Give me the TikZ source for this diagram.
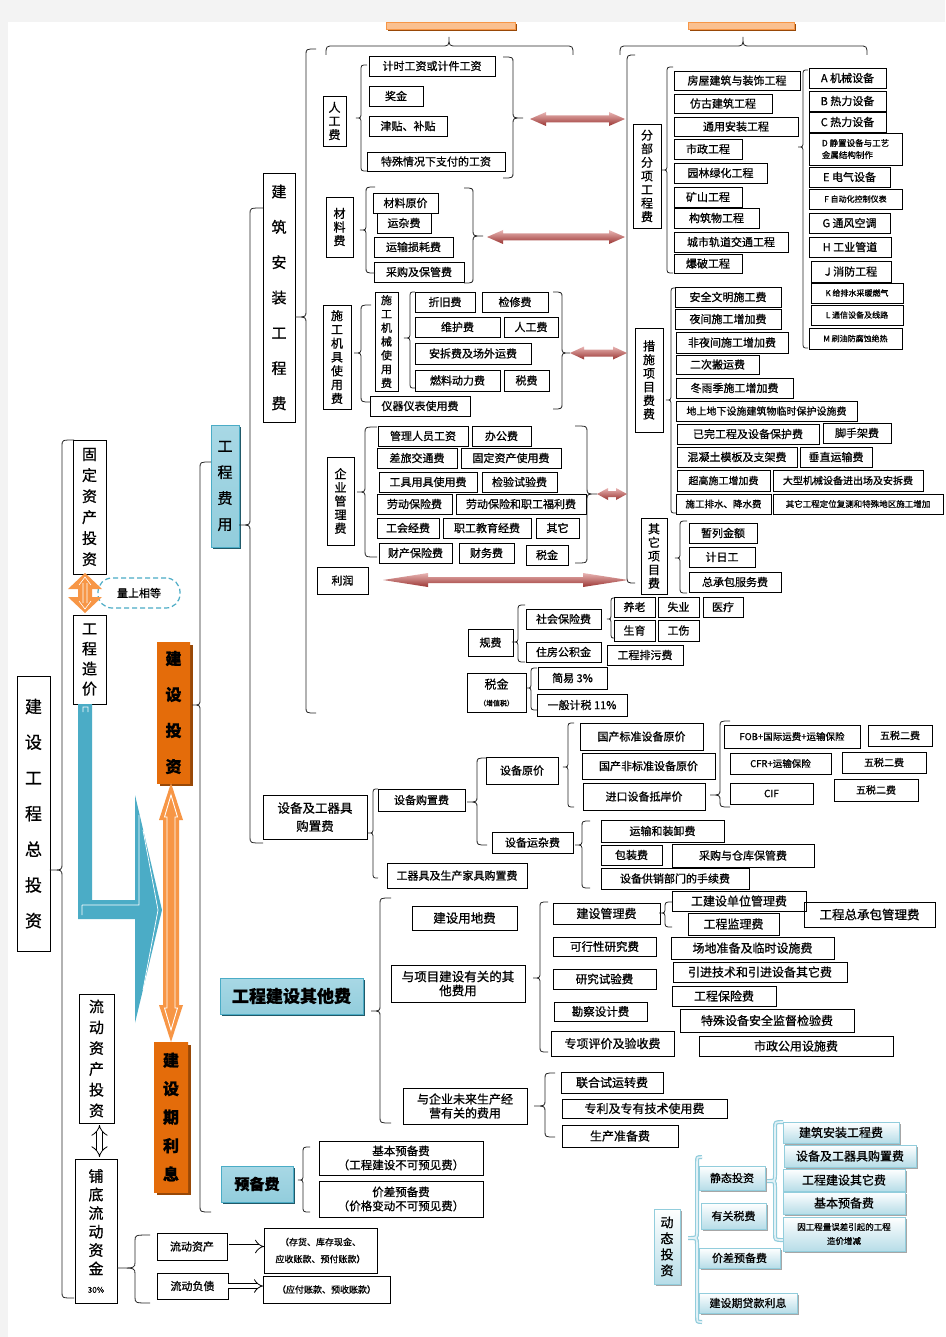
\documentclass[tikz,border=0pt]{standalone}
\usepackage{fontspec}
\setmainfont{Noto Sans CJK SC}[FakeBold=0.8]
\usetikzlibrary{shadows,arrows.meta}
\definecolor{ored}{HTML}{C0504D}
\definecolor{rtop}{HTML}{E8B4B3}
\definecolor{rbot}{HTML}{9A3532}
\definecolor{orng}{HTML}{E46C0A}
\definecolor{orngm}{HTML}{F2A25E}
\definecolor{orngl}{HTML}{F79646}
\definecolor{orngp}{HTML}{FAC090}
\definecolor{orngd}{HTML}{984807}
\definecolor{bl}{HTML}{4BACC6}
\definecolor{bll}{HTML}{A8D8E5}
\definecolor{blm}{HTML}{58B3CB}
\definecolor{bld}{HTML}{215968}
\definecolor{blp}{HTML}{B7DDE8}
\definecolor{blb}{HTML}{92CDDC}
\definecolor{pg}{HTML}{F3F3F3}
\newcommand\fz[2]{\fontsize{#1}{#2}\selectfont}
\tikzset{
  box/.style={draw=black,line width=0.8pt,inner sep=0pt,outer sep=0pt,anchor=north west,align=center,font=\fz{11}{13},text=black},
  vbox/.style={font=\fz{12}{13.6}},
  obox/.style={draw=none,left color=orng,middle color=orngm,right color=orng,font=\fz{16}{36}\bfseries,
     drop shadow={shadow xshift=3pt,shadow yshift=-3pt,fill=orngd,opacity=1}},
  bbox/.style={draw=bl,top color=bll,middle color=blm,bottom color=blb,
     drop shadow={shadow xshift=2pt,shadow yshift=-2pt,fill=bld,opacity=1}},
  dbox/.style={draw=blb,top color=white,bottom color=blp,
     drop shadow={shadow xshift=2pt,shadow yshift=-2pt,fill=black!35,opacity=1}},
  topor/.style={draw=orngl,fill=orngp,drop shadow={shadow xshift=2pt,shadow yshift=-2pt,fill=orngd,opacity=1}},
  brc/.style={draw=black!85,line width=0.8pt},
  lbrc/.style={draw=blb,line width=4pt},
  lbrcin/.style={draw=white!60!blp,line width=1.6pt},
  warr/.style={double=white,double distance=4pt,line width=0.8pt},
}
\newcommand\bx[7][]{\node[box,minimum width={(#5)-(#3)},minimum height={(#6)-(#4)},#1] (#2) at (#3,#4) {#7};}
% brace: tip x, tip y, line x, end x, top y, bottom y
\newcommand\brcpath[6]{(#4,#5) .. controls (#3,#5) .. (#3,#5+6) -- (#3,#2-6) .. controls (#3,#2) .. (#1,#2) .. controls (#3,#2) .. (#3,#2+6) -- (#3,#6-6) .. controls (#3,#6) .. (#4,#6)}
\newcommand\brc[6]{\draw[brc] \brcpath{#1}{#2}{#3}{#4}{#5}{#6};}
% red double arrow: x1 x2 y headhalf shafthalf headlength
\newcommand\rdar[6]{\shade[top color=rtop,middle color=ored,bottom color=rbot] (#1,#3) -- (#1+#6,#3-#4) -- (#1+#6,#3-#5) -- (#2-#6,#3-#5) -- (#2-#6,#3-#4) -- (#2,#3) -- (#2-#6,#3+#4) -- (#2-#6,#3+#5) -- (#1+#6,#3+#5) -- (#1+#6,#3+#4) -- cycle;}
\begin{document}
\begin{tikzpicture}[x=1pt,y=-1pt]
\useasboundingbox (0,0) rectangle (945,1337);
\fill[pg] (0,0) rectangle (945,1337);
\fill[white] (8,22) rectangle (945,1337);

% ---------- top orange strips and top braces
\bx[topor]{tora}{386}{22}{515}{29}{}
\bx[topor]{torb}{688}{22}{794}{29}{}
\draw[brc] (326,55) .. controls (326,46) .. (334,46) -- (441,46) .. controls (449,46) .. (449,37) .. controls (449,46) .. (457,46) -- (565,46) .. controls (573,46) .. (573,55);
\draw[brc] (620,55) .. controls (620,46) .. (628,46) -- (735,46) .. controls (743,46) .. (743,37) .. controls (743,46) .. (751,46) -- (859,46) .. controls (867,46) .. (867,55);
\draw[brc] (635,55) .. controls (627,55) .. (627,63) -- (627,575) .. controls (627,583) .. (635,583);

% ---------- left column
\bx[font=\fz{17}{35.7}]{zjt}{17}{676}{50}{951}{建\\设\\工\\程\\总\\投\\资}
\bx[font=\fz{15}{21}]{gdzc}{73}{440}{106}{574}{固\\定\\资\\产\\投\\资}
\bx[font=\fz{15}{20}]{gczj}{73}{615}{106}{704}{工\\程\\造\\价}
\bx[draw=bl,dash pattern=on 5pt off 3pt,line width=1.2pt,rounded corners=14pt,fill=white]{eq}{98}{578}{180}{608}{量上相等}
\bx[obox]{jstz}{157}{642}{190}{783}{建\\设\\投\\资}
\bx[obox,font=\fz{16}{28.5}\bfseries]{jsqlx}{154}{1042}{188}{1192}{建\\设\\期\\利\\息}
\bx[bbox,font=\fz{15}{26}]{gcfy}{211}{425}{239}{547}{工\\程\\费\\用}
\bx[font=\fz{15}{35.3}]{jzaz}{263}{173}{295}{422}{建\\筑\\安\\装\\工\\程\\费}
\bx[font=\fz{15}{20.8}]{ldzc}{79}{994}{114}{1123}{流\\动\\资\\产\\投\\资}
\bx[font=\fz{15}{18.5}]{pdld}{75}{1159}{117}{1303}{铺\\底\\流\\动\\资\\金\\{\fz{8}{10}30\%}}
\bx{ldzc2}{157}{1233}{227}{1260}{流动资产}
\bx{ldfz}{157}{1273}{228}{1299}{流动负债}
\bx[font=\fz{9}{17}]{ch}{264}{1228}{377}{1273}{（存货、库存现金、\\应收账款、预付账款）}
\bx[font=\fz{9}{11}]{yf}{263}{1276}{390}{1303}{（应付账款、预收账款）}

% orange double arrow (fixed assets <-> cost)
\fill[orngl] (85,573) -- (102,589) -- (92,589) -- (92,597) -- (102,597) -- (85,613) -- (68,597) -- (78,597) -- (78,589) -- (68,589) -- cycle;
\draw[white,line width=0.6pt] (83,583) -- (83,603) (87,583) -- (87,603) (79,585) -- (85,577) -- (91,585) (79,601) -- (85,609) -- (91,601);
% blue L arrow (cost -> construction investment)
\fill[bl] (78,704) -- (92,704) -- (92,900) -- (135,900) -- (135,795) -- (162,910) -- (135,1023) -- (135,919) -- (78,919) -- cycle;
\draw[white,line width=0.7pt] (83,712) -- (83,707) -- (88,707) -- (88,712) (82,905) -- (139,905) -- (139,815) (143,830) -- (158,910) -- (143,990) (82,905) -- (82,915);
% orange vertical double arrow
\fill[orngl] (171,783) -- (183,820) -- (179,820) -- (179,1005) -- (183,1005) -- (171,1042) -- (159,1005) -- (163,1005) -- (163,820) -- (159,820) -- cycle;
\draw[white,line width=0.9pt] (171,795) -- (177.5,817) -- (175,817) -- (175,1008) -- (177.5,1008) -- (171,1030) -- (164.5,1008) -- (167,1008) -- (167,817) -- (164.5,817) -- cycle;
% white double arrow and right arrows
\draw[warr,double distance=5pt,{Implies}-{Implies}] (99.5,1125) -- (99.5,1157);
\draw[warr,-{Implies}] (ldzc2.east) ++(2,0) -- (ch.west |- ldzc2.east);
\draw[warr,-{Implies}] (ldfz.east) -- (yf.west |- ldfz.east);

% left braces
\brc{50}{870}{62}{74}{440}{1298}
\brc{192}{705}{200}{211}{462}{1212}
\brc{239}{525}{250}{263}{208}{843}
\brc{295}{317}{306}{316}{49}{713}
\brc{117}{1268}{135}{150}{1235}{1303}

% ---------- labour
\bx[vbox]{rgf}{323}{96}{346}{146}{人\\工\\费}
\bx{jsgz}{369}{56}{495}{76}{计时工资或计件工资}
\bx{jj}{369}{86}{423}{106}{奖金}
\bx{jt}{369}{116}{447}{136}{津贴、补贴}
\bx{ts}{367}{152}{505}{171}{特殊情况下支付的工资}
\brc{356}{118}{361}{367}{65}{171}
\brc{523}{118}{513}{503}{57}{178}
% materials
\bx[vbox]{clf}{326}{197}{353}{257}{材\\料\\费}
\bx{clyj}{373}{193}{438}{213}{材料原价}
\bx{yzf}{377}{213}{431}{233}{运杂费}
\bx{yssh}{374}{237}{453}{257}{运输损耗费}
\bx{cgbg}{374}{262}{464}{282}{采购及保管费}
\brc{360}{230}{366}{375}{187}{273}
\brc{483}{236}{473}{464}{188}{283}
% machinery
\bx[font=\fz{12}{13.8}]{sgjj}{323}{305}{351}{409}{施\\工\\机\\具\\使\\用\\费}
\bx[font=\fz{11}{13.8}]{sgjx}{375}{292}{398}{391}{施\\工\\机\\械\\使\\用\\费}
\bx{zjf}{415}{292}{475}{312}{折旧费}
\bx{jxf}{482}{292}{548}{312}{检修费}
\bx{whf}{415}{317}{500}{337}{维护费}
\bx{rgfb}{504}{317}{558}{337}{人工费}
\bx{acf}{415}{343}{531}{364}{安拆费及场外运费}
\bx{rldl}{415}{370}{500}{391}{燃料动力费}
\bx{sff}{504}{370}{549}{391}{税费}
\bx{yqyb}{370}{396}{470}{416}{仪器仪表使用费}
\brc{354}{353}{361}{371}{305}{402}
\brc{404}{338}{410}{415}{292}{388}
\brc{570}{353}{562}{553}{292}{409}
% management
\bx[vbox]{qygl}{327}{457}{354}{545}{企\\业\\管\\理\\费}
\bx{glry}{378}{426}{468}{446}{管理人员工资}
\bx{bgf}{472}{426}{531}{446}{办公费}
\bx{clt}{377}{448}{457}{468}{差旅交通费}
\bx{gdsy}{461}{448}{561}{468}{固定资产使用费}
\bx{gjyj}{379}{472}{477}{492}{工具用具使用费}
\bx{jysy}{482}{472}{557}{492}{检验试验费}
\bx{ldbx}{377}{494}{452}{514}{劳动保险费}
\bx{ldfl}{456}{494}{586}{514}{劳动保险和职工福利费}
\bx{ghjf}{377}{518}{439}{538}{工会经费}
\bx{zgjy}{443}{518}{531}{538}{职工教育经费}
\bx{qtt}{536}{518}{579}{538}{其它}
\bx{ccbx}{379}{543}{452}{563}{财产保险费}
\bx{cwf}{459}{543}{514}{563}{财务费}
\bx{sjj}{526}{545}{568}{565}{税金}
\brc{357}{492}{365}{377}{427}{557}
\brc{597}{494}{587}{575}{426}{563}
\bx{lr}{317}{567}{368}{594}{利润}
% red arrows
\rdar{530}{625}{119}{7}{3.5}{16}
\rdar{487}{625}{237}{7}{3.5}{16}
\rdar{570}{627}{353}{6.5}{3.5}{14}
\rdar{597}{627}{494}{6}{3}{11}
\rdar{383}{628}{580}{7}{3}{45}
% fees and tax
\bx{gf}{468}{629}{513}{656}{规费}
\bx{shbx}{526}{609}{601}{629}{社会保险费}
\bx{zfgj}{526}{642}{601}{662}{住房公积金}
\bx{yanglao}{614}{597}{655}{617}{养老}
\bx{shiye}{658}{597}{699}{617}{失业}
\bx{yiliao}{703}{597}{743}{617}{医疗}
\bx{shengyu}{614}{620}{655}{641}{生育}
\bx{gongshang}{658}{620}{699}{641}{工伤}
\bx{gcpw}{607}{645}{683}{665}{工程排污费}
\bx[font=\fz{12}{17}]{sjz}{467}{673}{526}{712}{税金\\{\fz{7}{9}（增值税）}}
\bx{jy}{538}{667}{607}{689}{简易 3\%}
\bx{ybjs}{537}{694}{627}{716}{一般计税 11\%}
\brc{512}{642}{518}{525}{605}{662}
\brc{607}{619}{611}{615}{598}{638}
\brc{527}{688}{531}{537}{668}{710}

% ---------- works
\bx[vbox]{fbfx}{633}{124}{661}{228}{分\\部\\分\\项\\工\\程\\费}
\bx{fw}{674}{71}{800}{90}{房屋建筑与装饰工程}
\bx{fg}{674}{94}{772}{113}{仿古建筑工程}
\bx{ty}{674}{117}{798}{136}{通用安装工程}
\bx{sz}{674}{139}{742}{159}{市政工程}
\bx{yllh}{674}{163}{767}{183}{园林绿化工程}
\bx{ks}{674}{187}{742}{207}{矿山工程}
\bx{gzw}{674}{208}{759}{228}{构筑物工程}
\bx{csgd}{674}{232}{788}{252}{城市轨道交通工程}
\bx{bp}{674}{254}{742}{273}{爆破工程}
\brc{662}{170}{667}{673}{67}{273}
\brc{798}{147}{803}{808}{70}{348}
\bx{ea}{809}{68}{886}{88}{A 机械设备}
\bx{eb}{809}{91}{886}{111}{B 热力设备}
\bx{ec}{809}{112}{886}{132}{C 热力设备}
\bx[font=\fz{8.5}{12},align=left]{ed}{809}{133}{902}{165}{D 静置设备与工艺\\金属结构制作}
\bx{ee}{809}{167}{890}{187}{E 电气设备}
\bx[font=\fz{8}{10}]{ef}{809}{189}{902}{209}{F 自动化控制仪表}
\bx{eg}{809}{213}{890}{233}{G 通风空调}
\bx{eh}{809}{237}{891}{257}{H 工业管道}
\bx{ej}{811}{261}{891}{282}{J 消防工程}
\bx[font=\fz{8}{10}]{ek}{811}{283}{903}{303}{K 给排水采暖燃气}
\bx[font=\fz{8}{10}]{el}{811}{305}{903}{325}{L 通信设备及线路}
\bx[font=\fz{8}{10}]{em}{809}{328}{902}{349}{M 刷油防腐蚀绝热}
% measures
\bx[vbox]{csxm}{635}{328}{663}{432}{措\\施\\项\\目\\费\\费}
\bx{aqwm}{675}{287}{781}{307}{安全文明施工费}
\bx{yjsg}{675}{309}{781}{329}{夜间施工增加费}
\bx{fyj}{676}{332}{788}{353}{非夜间施工增加费}
\bx{ecby}{676}{355}{759}{374}{二次搬运费}
\bx{dyj}{676}{378}{793}{398}{冬雨季施工增加费}
\bx[font=\fz{10}{12}]{dsdx}{676}{401}{857}{421}{地上地下设施建筑物临时保护设施费}
\bx{ywgc}{677}{424}{819}{444}{已完工程及设备保护费}
\bx{jsj}{823}{423}{891}{443}{脚手架费}
\bx{hnt}{677}{447}{797}{467}{混凝土模板及支架费}
\bx{czys}{800}{447}{872}{467}{垂直运输费}
\bx[font=\fz{10}{12}]{cgsg}{677}{470}{770}{491}{超高施工增加费}
\bx[font=\fz{10}{12}]{dxjx}{773}{470}{923}{491}{大型机械设备进出场及安拆费}
\bx[font=\fz{9.5}{12}]{sgps}{676}{494}{771}{514}{施工排水、降水费}
\bx[font=\fz{8.5}{10}]{qtgc}{773}{494}{943}{514}{其它工程定位复测和特殊地区施工增加}
\brc{666}{400}{671}{676}{288}{513}
% other items
\bx[vbox]{qtxm}{641}{518}{667}{594}{其\\它\\项\\目\\费}
\bx{zljl}{689}{523}{757}{543}{暂列金额}
\bx{jrg}{689}{547}{755}{567}{计日工}
\bx{zcbf}{689}{572}{781}{592}{总承包服务费}
\brc{675}{558}{680}{687}{521}{593}

% ---------- equipment
\bx[font=\fz{12.5}{18}]{sbgj}{263}{795}{367}{839}{设备及工器具\\购置费}
\bx{sbgz}{378}{789}{465}{811}{设备购置费}
\bx{sbyj}{486}{757}{558}{784}{设备原价}
\bx{sbyz}{492}{832}{573}{853}{设备运杂费}
\bx{gqj}{387}{863}{527}{888}{工器具及生产家具购置费}
\bx{gcbz}{580}{723}{703}{750}{国产标准设备原价}
\bx{gcfb}{582}{753}{715}{779}{国产非标准设备原价}
\bx{jksb}{583}{783}{705}{810}{进口设备抵岸价}
\bx[font=\fz{9.5}{12}]{fob}{724}{725}{860}{748}{FOB+国际运费+运输保险}
\bx[font=\fz{10}{12}]{wsa}{868}{725}{932}{746}{五税二费}
\bx[font=\fz{9.5}{12}]{cfr}{730}{753}{831}{774}{CFR+运输保险}
\bx[font=\fz{10}{12}]{wsb}{842}{752}{926}{773}{五税二费}
\bx[font=\fz{10}{12}]{cif}{730}{783}{813}{804}{CIF}
\bx[font=\fz{10}{12}]{wsc}{834}{779}{918}{801}{五税二费}
\bx{yszx}{601}{820}{724}{842}{运输和装卸费}
\bx{bzf}{601}{845}{662}{865}{包装费}
\bx{cgck}{672}{844}{814}{867}{采购与仓库保管费}
\bx{sbgx}{601}{868}{749}{889}{设备供销部门的手续费}
\brc{368}{833}{373}{378}{789}{878}
\brc{467}{802}{477}{487}{758}{845}
\brc{563}{767}{568}{574}{723}{807}
\brc{710}{795}{720}{730}{721}{807}
\brc{575}{845}{582}{590}{821}{888}

% ---------- other construction costs
\bx[bbox,font=\fz{17}{20}\bfseries]{gcqt}{220}{978}{363}{1014}{工程建设其他费}
\bx[font=\fz{12.5}{14}]{jsyd}{412}{906}{517}{930}{建设用地费}
\bx[font=\fz{12.5}{14}]{yxm}{391}{965}{525}{1002}{与项目建设有关的其\\他费用}
\bx[font=\fz{12}{14}]{jsgl}{553}{903}{660}{924}{建设管理费}
\bx[font=\fz{12}{14}]{jsdw}{672}{891}{806}{911}{工建设单位管理费}
\bx[font=\fz{12}{14}]{gcjl}{688}{913}{779}{935}{工程监理费}
\bx[font=\fz{12.5}{14}]{zcbgl}{804}{902}{935}{927}{工程总承包管理费}
\bx[font=\fz{11.5}{14}]{kxx}{553}{937}{656}{956}{可行性研究费}
\bx[font=\fz{12}{14}]{cdzb}{671}{937}{834}{959}{场地准备及临时设施费}
\bx[font=\fz{11.5}{14}]{yjsy}{553}{969}{656}{989}{研究试验费}
\bx[font=\fz{12}{14}]{yjjs}{673}{962}{847}{982}{引进技术和引进设备其它费}
\bx[font=\fz{12}{14}]{gcbx}{672}{986}{776}{1006}{工程保险费}
\bx[font=\fz{11.5}{14}]{kcsj}{554}{1002}{647}{1021}{勘察设计费}
\bx[font=\fz{12}{14}]{tssb}{680}{1009}{854}{1032}{特殊设备安全监督检验费}
\bx[font=\fz{12}{14}]{zxpj}{551}{1031}{674}{1056}{专项评价及验收费}
\bx[font=\fz{12}{14}]{szgy}{699}{1036}{893}{1056}{市政公用设施费}
\bx[font=\fz{12}{14}]{yqy}{403}{1088}{527}{1124}{与企业未来生产经\\营有关的费用}
\bx[font=\fz{12}{14}]{lhsy}{561}{1072}{663}{1093}{联合试运转费}
\bx[font=\fz{12}{14}]{zlzy}{562}{1099}{727}{1118}{专利及专有技术使用费}
\bx[font=\fz{12}{14}]{sczb}{562}{1125}{678}{1147}{生产准备费}
\brc{371}{1011}{380}{391}{898}{1123}
\brc{533}{978}{540}{548}{902}{1052}
\brc{659}{913}{665}{672}{902}{927}
\brc{534}{1106}{545}{555}{1073}{1137}

% ---------- contingency
\bx[bbox,font=\fz{15}{18}\bfseries]{ybf}{221}{1166}{293}{1202}{预备费}
\bx[font=\fz{11.5}{14}]{jbyb}{319}{1141}{483}{1175}{基本预备费\\（工程建设不可预见费）}
\bx[font=\fz{11.5}{14}]{jcyb}{319}{1181}{483}{1217}{价差预备费\\（价格变动不可预见费）}
\brc{298}{1180}{303}{310}{1147}{1212}

% ---------- dynamic investment
\draw[lbrc] \brcpath{688}{1238}{697}{702}{1157}{1322};
\draw[lbrcin] \brcpath{688}{1238}{697}{702}{1157}{1322};
\draw[lbrc] \brcpath{767}{1181}{775}{783}{1122}{1240};
\draw[lbrcin] \brcpath{767}{1181}{775}{783}{1122}{1240};
\bx[dbox,font=\fz{13}{16}]{dtz}{654}{1209}{680}{1284}{动\\态\\投\\资}
\bx[dbox]{jttz}{699}{1166}{765}{1190}{静态投资}
\bx[dbox]{ygsf}{701}{1203}{766}{1229}{有关税费}
\bx[dbox]{jcyb2}{699}{1248}{780}{1268}{价差预备费}
\bx[dbox]{jsdk}{699}{1293}{797}{1313}{建设期贷款利息}
\bx[dbox,font=\fz{12}{14}]{jzf}{783}{1122}{899}{1143}{建筑安装工程费}
\bx[dbox,font=\fz{12}{14}]{sbf}{784}{1145}{916}{1167}{设备及工器具购置费}
\bx[dbox,font=\fz{12}{14}]{gqf}{783}{1169}{905}{1191}{工程建设其它费}
\bx[dbox,font=\fz{12}{14}]{jbf}{783}{1192}{905}{1214}{基本预备费}
\bx[dbox,font=\fz{8.5}{14}]{ygcl}{783}{1217}{905}{1251}{因工程量误差引起的工程\\造价增减}
\end{tikzpicture}
\end{document}
